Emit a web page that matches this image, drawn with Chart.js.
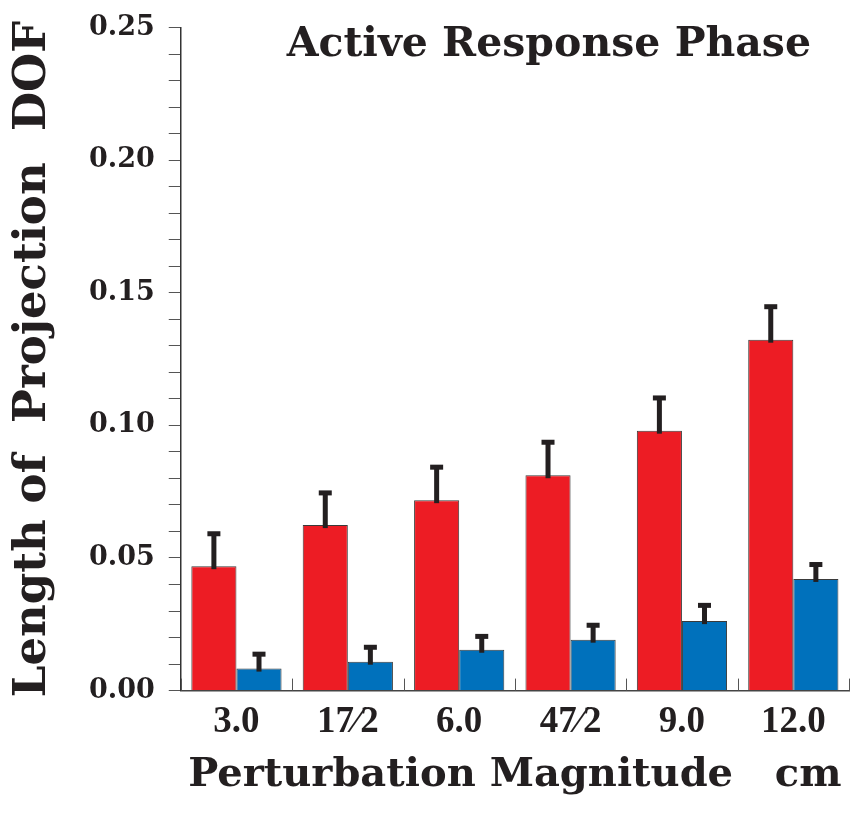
<!DOCTYPE html>
<html>
<head>
<meta charset="utf-8">
<script src="https://cdn.jsdelivr.net/npm/chart.js@4"></script>
<style>
  body { margin: 0; background: #fff; }
  #wrap { width: 850px; height: 813px; }
</style>
</head>
<body>
<div id="wrap"><canvas id="myChart" width="850" height="813"></canvas></div>
<script>
// values
var categories = ["3.0", "17\u20442", "6.0", "47\u20442", "9.0", "12.0"];
var redValues = [0.0469, 0.0624, 0.0718, 0.0812, 0.0980, 0.1323];
var redErrors = [0.0128, 0.0127, 0.0130, 0.0130, 0.0129, 0.0130];
var blueValues = [0.0083, 0.0109, 0.0154, 0.0192, 0.0262, 0.0421];
var blueErrors = [0.0060, 0.0060, 0.0056, 0.0060, 0.0065, 0.0060];
var yTicks = [0, 0.05, 0.10, 0.15, 0.20, 0.25];

var serif = "'DejaVu Serif', 'Liberation Serif', serif";
var ink = "#231f20";

// one-sided error bars drawn on top of the bars
var errorBars = {
  id: "errorBars",
  afterDatasetsDraw: function (chart) {
    var ctx = chart.ctx;
    var y = chart.scales.y;
    chart.data.datasets.forEach(function (ds, i) {
      var meta = chart.getDatasetMeta(i);
      meta.data.forEach(function (bar, j) {
        var top = y.getPixelForValue(ds.data[j] + ds.errors[j]);
        ctx.save();
        ctx.fillStyle = ink;
        ctx.fillRect(bar.x - 2.5, top, 5, bar.y - top + 3);
        ctx.fillRect(bar.x - 6.5, top - 1, 13, 5);
        ctx.restore();
      });
    });
  }
};

// short upward ticks at category boundaries + title inside plot
var extras = {
  id: "extras",
  afterDraw: function (chart) {
    var ctx = chart.ctx;
    var x = chart.scales.x;
    var area = chart.chartArea;
    var half = (x.getPixelForValue(1) - x.getPixelForValue(0)) / 2;
    ctx.save();
    ctx.strokeStyle = "#555";
    ctx.lineWidth = 1;
    for (var i = 0; i <= categories.length; i++) {
      var px = Math.round(x.getPixelForValue(0) - half + i * half * 2) + 0.5;
      ctx.beginPath();
      ctx.moveTo(px, area.bottom);
      ctx.lineTo(px, area.bottom - 12);
      ctx.stroke();
    }
    ctx.fillStyle = ink;
    ctx.font = "bold 41px " + serif;
    ctx.textAlign = "right";
    ctx.textBaseline = "middle";
    ctx.fillText("Active Response Phase", area.right - 38, area.top + 18);
    ctx.restore();
  }
};

new Chart("myChart", {
  type: "bar",
  data: {
    labels: categories,
    datasets: [
      {
        data: redValues,
        errors: redErrors,
        backgroundColor: "#ed1c24",
        borderColor: "#3a3a3a",
        borderWidth: 1,
        borderSkipped: "bottom"
      },
      {
        data: blueValues,
        errors: blueErrors,
        backgroundColor: "#0071bc",
        borderColor: "#3a3a3a",
        borderWidth: 1,
        borderSkipped: "bottom"
      }
    ]
  },
  options: {
    responsive: false,
    animation: false,
    layout: { padding: { left: 6, right: 1, top: 0, bottom: 13 } },
    datasets: { bar: { barPercentage: 1, categoryPercentage: 0.81 } },
    plugins: {
      legend: { display: false },
      tooltip: { enabled: false }
    },
    scales: {
      x: {
        grid: { display: false },
        border: { display: true, color: "#444", width: 1.5 },
        ticks: {
          color: ink,
          padding: 2,
          font: { family: "'Liberation Serif', serif", weight: "bold", size: 37 }
        },
        title: {
          display: true,
          text: "Perturbation Magnitude   cm",
          color: ink,
          padding: { top: 5, bottom: 0 },
          font: { family: serif, weight: "bold", size: 40 }
        }
      },
      y: {
        min: 0,
        max: 0.25,
        afterBuildTicks: function (scale) {
          var t = [];
          for (var k = 0; k <= 25; k++) t.push({ value: k / 100 });
          scale.ticks = t;
        },
        grid: {
          drawOnChartArea: false,
          drawTicks: true,
          tickLength: 12,
          color: "#555"
        },
        border: { display: true, color: "#333", width: 1.5 },
        ticks: {
          autoSkip: false,
          color: ink,
          padding: 14,
          font: { family: serif, weight: "bold", size: 27, lineHeight: 1 },
          callback: function (v) {
            var hit = yTicks.some(function (t) { return Math.abs(t - v) < 1e-6; });
            return hit ? v.toFixed(2) : "";
          }
        },
        title: {
          display: true,
          text: "Length of  Projection  DOF",
          color: ink,
          padding: { top: 0, bottom: 15 },
          font: { family: serif, weight: "bold", size: 45 }
        }
      }
    }
  },
  plugins: [errorBars, extras]
});
</script>
</body>
</html>
